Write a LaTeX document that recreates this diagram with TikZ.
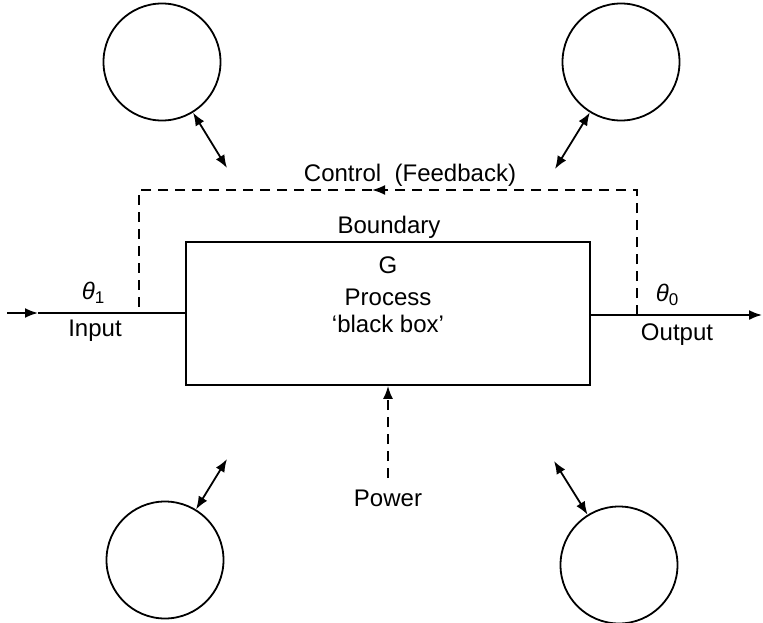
\documentclass[tikz,border=0pt]{standalone}
\usepackage{fontspec}
\setmainfont{Liberation Sans}
\usetikzlibrary{arrows.meta}
\begin{document}
\begin{tikzpicture}[x=1pt,y=-1pt,
  line width=1.8pt,
  tip/.style={-{Latex[length=13pt,width=10pt]}},
  both/.style={{Latex[length=13pt,width=10pt]}-{Latex[length=13pt,width=10pt]}},
  fb/.style={dash pattern=on 10pt off 7pt},
  ring/.style={draw,circle,minimum size=117pt,inner sep=0pt},
  lbl/.style={inner sep=0pt,font=\fontsize{24}{28}\selectfont}]
\useasboundingbox (0,0) rectangle (763,623);
% circles
\node[ring] (c1) at (162,62) {};
\node[ring] (c2) at (621,62) {};
\node[ring] (c3) at (165,560) {};
\node[ring] (c4) at (619,565) {};
% process box
\node[draw,minimum width=404pt,minimum height=143pt,inner sep=0pt] (box) at (388,313.5) {};
% texts
\node[lbl] (bnd) at (389,227) {Boundary};
\node[lbl] (g) at (388,265) {G};
\node[lbl] (proc) at (388,297) {Process};
\node[lbl] (bb) at (388,324) {‘black box’};
\node[lbl] (ctl) at (410,175) {Control\ \ (Feedback)};
\node[lbl] (in) at (95,331) {Input};
\node[lbl] (out) at (677,335) {Output};
\node[lbl] (t1) at (93,293) {\itshape θ\/\raisebox{-0.35ex}{\upshape\fontsize{17}{20}\selectfont 1}};
\node[lbl] (t0) at (667,295) {\itshape θ\/\raisebox{-0.35ex}{\upshape\fontsize{17}{20}\selectfont 0}};
\node[lbl] (pow) at (388,498) {Power};
% interaction arrows
\coordinate (a1) at (227,168);
\coordinate (a2) at (555,169);
\coordinate (a3) at (227,459);
\coordinate (a4) at (554,461);
\draw[both] (c1) -- (a1);
\draw[both] (c2) -- (a2);
\draw[both] (c3) -- (a3);
\draw[both] (c4) -- (a4);
% input / output
\coordinate (ins) at (7,313);
\coordinate (inm) at (38,313);
\coordinate (fbL) at (139,313);
\coordinate (fbR) at (637,315);
\coordinate (oute) at (762,315);
\draw[tip] (ins) -- (inm);
\draw (inm) -- (box.west |- inm);
\draw[tip] (box.east |- oute) -- (oute);
% feedback
\coordinate (fbTR) at (637,190);
\coordinate (fbTL) at (139,190);
\coordinate (fbM) at (372,190);
\draw[fb,tip] (fbR) -- (fbTR) -- (fbM);
\draw[fb] (fbM) -- (fbTL) -- (fbL);
% power
\coordinate (pws) at (388,478);
\draw[fb,tip] (pws) -- (box.south);
\end{tikzpicture}
\end{document}
